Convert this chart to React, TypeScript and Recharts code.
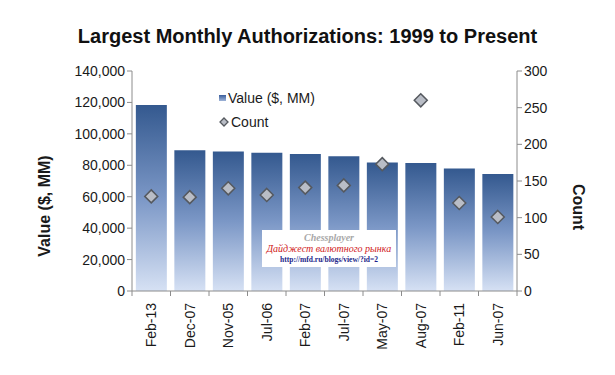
import React from 'react';
import {
    ComposedChart,
    Bar,
    Line,
    XAxis,
    YAxis,
} from 'recharts';

// months with the largest authorizations
const months = ['Feb-13', 'Dec-07', 'Nov-05', 'Jul-06', 'Feb-07', 'Jul-07', 'May-07', 'Aug-07', 'Feb-11', 'Jun-07'];
// value in $ MM (left axis)
const values = [118300, 89500, 88700, 88000, 87200, 85700, 81700, 81500, 78000, 74500];
// number of authorizations (right axis)
const counts = [129, 128, 140, 131, 141, 144, 173, 260, 120, 101];

const leftTicks = [0, 20000, 40000, 60000, 80000, 100000, 120000, 140000];
const rightTicks = [0, 50, 100, 150, 200, 250, 300];

const data = months.map((m, i) => ({ month: m, value: values[i], count: counts[i] }));

const FONT = '"Liberation Sans", Arial, sans-serif';
const AXIS = '#8c8c8c';
const BAND = 385 / months.length; // category width, used to put x ticks between bars

// diamond marker for the count series
const Diamond = (props: any) => {
    const { cx, cy } = props;
    if (cx == null || cy == null) return null;
    const r = 6.5;
    return (
        <polygon
            points={`${cx},${cy - r} ${cx + r},${cy} ${cx},${cy + r} ${cx - r},${cy}`}
            fill="#b9bdc6"
            stroke="#55595f"
            strokeWidth={1.5}
        />
    );
};

// rotated month label plus a tick mark at the left edge of the category
const MonthTick = (props: any) => {
    const { x, y, payload, index } = props;
    return (
        <g>
            <line x1={x - BAND / 2} y1={y - 8} x2={x - BAND / 2} y2={y - 3} stroke={AXIS} />
            {index === months.length - 1 && (
                <line x1={x + BAND / 2} y1={y - 8} x2={x + BAND / 2} y2={y - 3} stroke={AXIS} />
            )}
            <text
                x={x}
                y={y}
                transform={`rotate(-90, ${x}, ${y})`}
                dx={-4}
                dy={5}
                textAnchor="end"
                fill="#1a1a1a"
                fontSize={14}
                fontFamily={FONT}
            >
                {payload.value}
            </text>
        </g>
    );
};

// legend drawn inside the plot, like the original
const LegendBox = () => (
    <div
        style={{
            position: 'absolute',
            left: 219,
            top: 86,
            fontFamily: FONT,
            fontSize: 14,
            color: '#1a1a1a',
            lineHeight: '24px',
        }}
    >
        <div style={{ display: 'flex', alignItems: 'center' }}>
            <span
                style={{
                    display: 'inline-block',
                    width: 7,
                    height: 6,
                    marginRight: 2,
                    background: 'linear-gradient(#3a5e9c, #9fb4d8)',
                }}
            />
            Value ($, MM)
        </div>
        <div style={{ display: 'flex', alignItems: 'center' }}>
            <svg width={10} height={10} style={{ marginRight: 2 }}>
                <polygon points="5,1 9,5 5,9 1,5" fill="#b9bdc6" stroke="#55595f" strokeWidth={1.3} />
            </svg>
            Count
        </div>
    </div>
);

const axisLabel = (text: string, cx: number, cy: number, angle: number) => () => (
    <text
        x={cx}
        y={cy}
        transform={`rotate(${angle}, ${cx}, ${cy})`}
        textAnchor="middle"
        dominantBaseline="central"
        fontFamily={FONT}
        fontSize={16}
        fontWeight="bold"
        fill="#1a1a1a"
    >
        {text}
    </text>
);

export default function App() {
    return (
        <div style={{ position: 'absolute', left: 0, top: 0, width: 615, height: 375, background: '#fff' }}>
            <div
                style={{
                    position: 'absolute',
                    left: 0,
                    top: 25,
                    width: 615,
                    textAlign: 'center',
                    fontFamily: FONT,
                    fontSize: 20,
                    fontWeight: 'bold',
                    color: '#111',
                }}
            >
                Largest Monthly Authorizations: 1999 to Present
            </div>
            <ComposedChart
                width={615}
                height={375}
                data={data}
                margin={{ top: 71, right: 0, bottom: 0, left: 0 }}
                barCategoryGap="10%"
                style={{ position: 'absolute', left: 0, top: 0 }}
            >
                <defs>
                    <linearGradient id="barFill" x1="0" y1="0" x2="0" y2="1">
                        <stop offset="0%" stopColor="#34598f" />
                        <stop offset="50%" stopColor="#7b97c6" />
                        <stop offset="100%" stopColor="#d6e1f4" />
                    </linearGradient>
                </defs>
                <XAxis
                    dataKey="month"
                    height={84}
                    stroke={AXIS}
                    tickLine={false}
                    tick={<MonthTick />}
                    interval={0}
                />
                <YAxis
                    yAxisId="left"
                    width={132}
                    domain={[0, 140000]}
                    ticks={leftTicks}
                    tickFormatter={(v: number) => v.toLocaleString('en-US')}
                    stroke={AXIS}
                    tickSize={5}
                    tick={{ fill: '#1a1a1a', fontSize: 14, fontFamily: FONT }}
                    label={{ content: axisLabel('Value ($, MM)', 44, 206, -90) }}
                />
                <YAxis
                    yAxisId="right"
                    orientation="right"
                    width={98}
                    domain={[0, 300]}
                    ticks={rightTicks}
                    stroke={AXIS}
                    tickSize={5}
                    tick={{ fill: '#1a1a1a', fontSize: 14, fontFamily: FONT }}
                    label={{ content: axisLabel('Count', 578, 207, 90) }}
                />
                <Bar
                    yAxisId="left"
                    dataKey="value"
                    name="Value ($, MM)"
                    fill="url(#barFill)"
                    isAnimationActive={false}
                />
                <Line
                    yAxisId="right"
                    dataKey="count"
                    name="Count"
                    stroke="none"
                    dot={<Diamond />}
                    activeDot={false}
                    isAnimationActive={false}
                />
            </ComposedChart>
            <LegendBox />
            <div
                style={{
                    position: 'absolute',
                    left: 262,
                    top: 230,
                    width: 134,
                    height: 37,
                    background: '#fff',
                    textAlign: 'center',
                    fontFamily: '"Liberation Serif", serif',
                    lineHeight: '11px',
                    whiteSpace: 'nowrap',
                }}
            >
                <div style={{ fontSize: 10, fontWeight: 'bold', fontStyle: 'italic', color: '#a8a8a8', marginTop: 2 }}>
                    Chessplayer
                </div>
                <div style={{ fontSize: 10, fontStyle: 'italic', color: '#d0181a' }}>Дайджест валютного рынка</div>
                <div style={{ fontSize: 7.5, fontWeight: 'bold', color: '#1c1f8a' }}>http://mfd.ru/blogs/view/?id=2</div>
            </div>
        </div>
    );
}
